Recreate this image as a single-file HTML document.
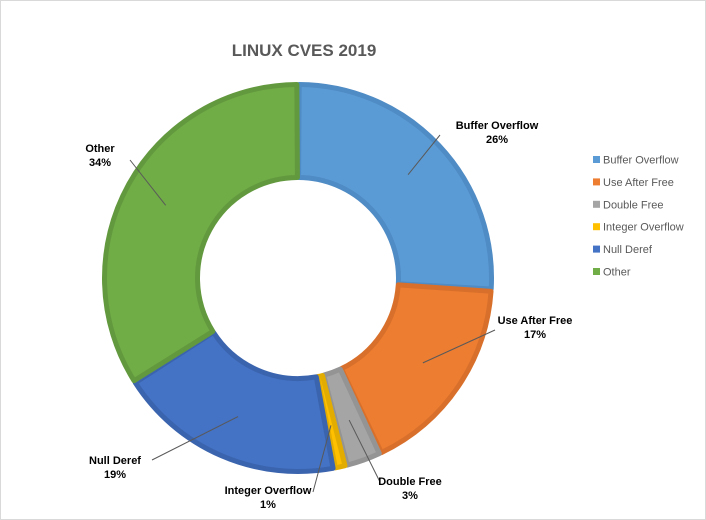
<!DOCTYPE html>
<html><head><meta charset="utf-8"><style>
body{margin:0;background:#fff;}
svg{display:block;font-family:"Liberation Sans",Calibri,sans-serif;}
</style></head><body>
<svg width="706" height="520">
<rect x="0.5" y="0.5" width="705" height="519" fill="#fff" stroke="#d9d9d9"/>
<text x="304" y="56" text-anchor="middle" font-size="17" font-weight="bold" fill="#595959">LINUX CVES 2019</text>
<g id="slices"></g><g id="labels"></g><g id="legend"></g>
</svg>
<script>
const categories=["Buffer Overflow","Use After Free","Double Free","Integer Overflow","Null Deref","Other"];
const values=[26,17,3,1,19,34];
const colors=["#5B9BD5","#ED7D31","#A5A5A5","#FFC000","#4472C4","#70AD47"];
const borders=["#4F8BC4","#D8702B","#949494","#E3AC00","#3B64AE","#63993E"];
const cx=298,cy=278,R=196,r=98;
const NS="http://www.w3.org/2000/svg";
const total=values.reduce((a,b)=>a+b,0);
function pt(a,rad){return [cx+rad*Math.sin(a),cy-rad*Math.cos(a)];}
const sg=document.getElementById('slices');
let acc=0;
const mids=[];
values.forEach((v,i)=>{
  const a0=acc/total*2*Math.PI; acc+=v; const a1=acc/total*2*Math.PI;
  mids.push((a0+a1)/2);
  const g=0.006;
  const b0=a0+g,b1=a1-g;
  const ro=R-2.5,ri=r+2.5;
  const large=(b1-b0)>Math.PI?1:0;
  const p1=pt(b0,ro),p2=pt(b1,ro),p3=pt(b1,ri),p4=pt(b0,ri);
  const d=`M${p1[0]},${p1[1]} A${ro},${ro} 0 ${large} 1 ${p2[0]},${p2[1]} L${p3[0]},${p3[1]} A${ri},${ri} 0 ${large} 0 ${p4[0]},${p4[1]} Z`;
  const p=document.createElementNS(NS,'path');
  p.setAttribute('d',d);p.setAttribute('fill',colors[i]);p.setAttribute('stroke',borders[i]);p.setAttribute('stroke-width','5');p.setAttribute('stroke-linejoin','round');
  
  
  sg.appendChild(p);
});
const labelPos=[[497,129],[535,324],[410,485],[268,494],[115,464],[100,152]];
const lineEnd=[[440,135],[495,330],[380,482],[313,492],[152,460],[130,160]];
const lg=document.getElementById('labels');
values.forEach((v,i)=>{
  const s=pt(mids[i],(R+r)/2+4);
  const l=document.createElementNS(NS,'line');
  l.setAttribute('x1',s[0]);l.setAttribute('y1',s[1]);l.setAttribute('x2',lineEnd[i][0]);l.setAttribute('y2',lineEnd[i][1]);
  l.setAttribute('stroke','#595959');l.setAttribute('stroke-width','1');
  
  
  lg.appendChild(l);
  const t=document.createElementNS(NS,'text');
  t.setAttribute('x',labelPos[i][0]);t.setAttribute('y',labelPos[i][1]);
  t.setAttribute('text-anchor','middle');t.setAttribute('font-size','11');t.setAttribute('font-weight','bold');t.setAttribute('fill','#000');
  
  
  const t1=document.createElementNS(NS,'tspan');t1.setAttribute('x',labelPos[i][0]);t1.textContent=categories[i];
  const t2=document.createElementNS(NS,'tspan');t2.setAttribute('x',labelPos[i][0]);t2.setAttribute('dy','14');t2.textContent=Math.round(v/total*100)+'%';
  t.appendChild(t1);t.appendChild(t2);lg.appendChild(t);
});
const leg=document.getElementById('legend');
categories.forEach((c,i)=>{
  const y=160+i*22.4;
  const g=document.createElementNS(NS,'g');
  
  
  const r0=document.createElementNS(NS,'rect');
  r0.setAttribute('x',593);r0.setAttribute('y',y-4);r0.setAttribute('width',7);r0.setAttribute('height',7);r0.setAttribute('fill',colors[i]);
  const t=document.createElementNS(NS,'text');
  t.setAttribute('x',603);t.setAttribute('y',y+3.5);t.setAttribute('font-size','11');t.setAttribute('fill','#595959');t.textContent=c;
  g.appendChild(r0);g.appendChild(t);leg.appendChild(g);
});
</script>
</body></html>
